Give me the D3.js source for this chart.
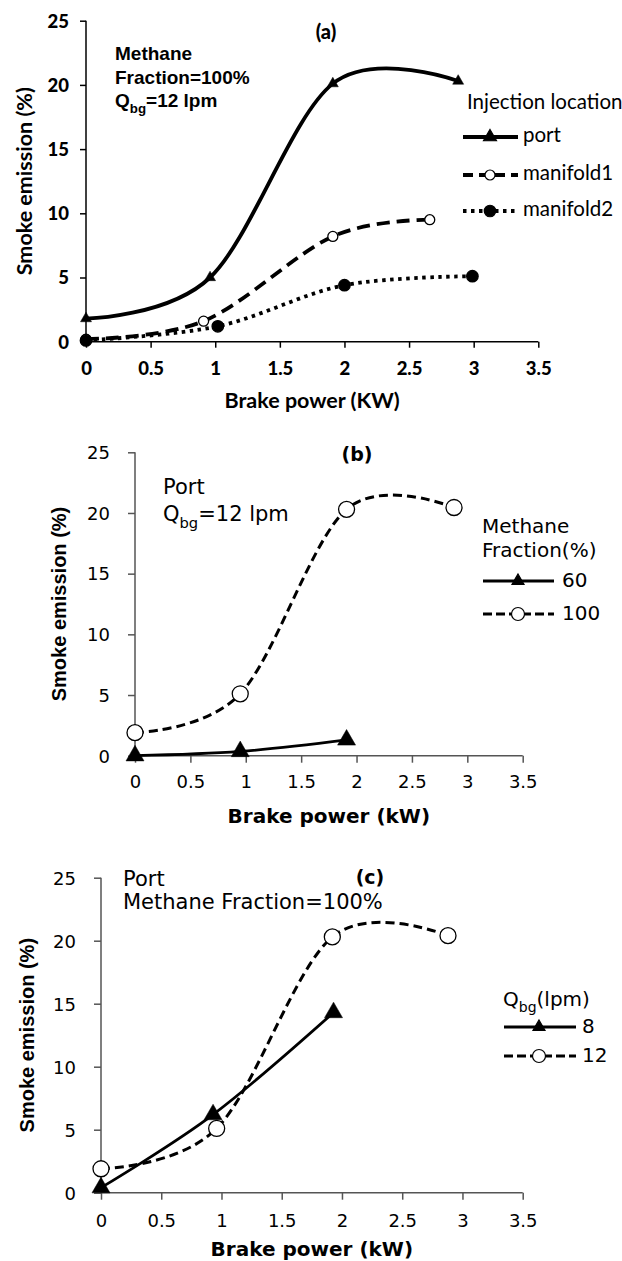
<!DOCTYPE html>
<html>
<head>
<meta charset="utf-8">
<script src="https://cdn.jsdelivr.net/npm/d3@7"></script>
<style>
  html, body { margin: 0; padding: 0; background: #fff; }
  svg { display: block; }
</style>
</head>
<body>
<svg id="chart" width="622" height="1261"></svg>
<script>
// ---------- DATA ----------
const xTicks = [0, 0.5, 1, 1.5, 2, 2.5, 3, 3.5];
const xTickLabels = ["0", "0.5", "1", "1.5", "2", "2.5", "3", "3.5"];
const yTicks = [0, 5, 10, 15, 20, 25];
const yTickLabels = ["0", "5", "10", "15", "20", "25"];

// Panel (a): Injection location
const portX = [0, 0.96, 1.91, 2.88];
const portY = [1.8, 5.0, 20.1, 20.3];
const manifold1X = [0, 0.91, 1.91, 2.66];
const manifold1Y = [0.2, 1.6, 8.2, 9.5];
const manifold2X = [0, 1.02, 2.0, 2.99];
const manifold2Y = [0.1, 1.2, 4.4, 5.1];

// Panel (b): Methane fraction
const mf100X = [0, 0.95, 1.91, 2.88];
const mf100Y = [1.9, 5.1, 20.3, 20.45];
const mf60X = [0, 0.95, 1.91];
const mf60Y = [0, 0.35, 1.3];

// Panel (c): Qbg
const q12X = [0, 0.96, 1.92, 2.88];
const q12Y = [1.9, 5.1, 20.3, 20.4];
const q8X = [0, 0.93, 1.93];
const q8Y = [0.4, 6.2, 14.3];

// ---------- DRAWING ----------
const svg = d3.select("#chart");
const zip = (xs, ys) => xs.map((x, i) => ({x, y: ys[i]}));
const triArea = w => Math.sqrt(3) / 4 * w * w;

function panel(cfg) {
  const g = svg.append("g");
  const x = d3.scaleLinear().domain([0, 3.5]).range([cfg.left, cfg.right]);
  const y = d3.scaleLinear().domain([0, 25]).range([cfg.bottom, cfg.top]);

  const ax = d3.axisBottom(x).tickValues(xTicks).tickFormat((d, i) => xTickLabels[i])
    .tickSizeInner(cfg.tick).tickSizeOuter(cfg.tick).tickPadding(0);
  const ay = d3.axisLeft(y).tickValues(yTicks).tickFormat((d, i) => yTickLabels[i])
    .tickSizeInner(cfg.tick).tickSizeOuter(0).tickPadding(cfg.yPad);
  const gx = g.append("g").attr("transform", `translate(0,${cfg.bottom})`).call(ax);
  const gy = g.append("g").attr("transform", `translate(${cfg.left},0)`).call(ay);
  [gx, gy].forEach(a => {
    a.selectAll("path, line").attr("stroke", cfg.axisColor).attr("stroke-width", cfg.axisWidth);
    a.selectAll("text").attr("fill", "#000")
      .style("font-family", cfg.tickFont).style("font-size", cfg.tickSize + "px")
      .style("font-weight", cfg.tickWeight);
  });
  gx.select(".domain").attr("d", `M${cfg.left},0H${cfg.right}`);
  gx.selectAll("text").attr("dy", "0").attr("y", cfg.xLabelY).attr("dominant-baseline", "middle");
  gy.select(".domain").attr("d", `M0,${cfg.bottom}V${cfg.top}`);
  gy.selectAll("text").attr("dy", "0.35em");

  g.append("text").attr("x", (cfg.left + cfg.right) / 2).attr("y", cfg.xTitleY)
    .attr("text-anchor", "middle").attr("dominant-baseline", "middle")
    .style("font-family", cfg.xTitleFont).style("font-size", cfg.titleSize + "px").style("font-weight", "bold")
    .text(cfg.xTitle);
  g.append("text").attr("transform", `translate(${cfg.yTitleX},${(cfg.top + cfg.bottom) / 2}) rotate(-90)`)
    .attr("text-anchor", "middle").attr("dominant-baseline", "middle")
    .style("font-family", cfg.yTitleFont).style("font-size", cfg.titleSize + "px").style("font-weight", "bold")
    .text(cfg.yTitle);

  const line = d3.line().x(d => x(d.x)).y(d => y(d.y)).curve(d3.curveCatmullRom.alpha(0));
  cfg.series.forEach(s => {
    const data = zip(s.xs, s.ys);
    g.append("path").datum(data).attr("d", line).attr("fill", "none")
      .attr("stroke", "#000").attr("stroke-width", s.width)
      .attr("stroke-dasharray", s.dash || null);
    g.selectAll(null).data(data).enter().append("path")
      .attr("transform", d => `translate(${x(d.x)},${y(d.y)})`)
      .attr("d", d3.symbol(s.marker === "tri" ? d3.symbolTriangle : d3.symbolCircle)
        .size(s.marker === "tri" ? triArea(s.msize) : Math.PI * (s.msize / 2) ** 2))
      .attr("fill", s.fill).attr("stroke", "#000").attr("stroke-width", s.marker === "tri" ? 0.5 : 1.3);
  });

  const L = cfg.legend;
  L.titles.forEach(t => {
    const tx = g.append("text").attr("x", L.titleX).attr("y", t.y).attr("dominant-baseline", "middle")
      .style("font-family", L.font).style("font-size", L.size + "px");
    t.parts.forEach(p => {
      const sp = tx.append("tspan").text(p.t);
      if (p.sub) sp.attr("baseline-shift", "sub").style("font-size", (L.size * 0.7) + "px");
    });
  });
  cfg.series.forEach((s, i) => {
    const ly = L.rows[i];
    g.append("line").attr("x1", L.x1).attr("x2", L.x2).attr("y1", ly).attr("y2", ly)
      .attr("stroke", "#000").attr("stroke-width", s.lwidth || s.width).attr("stroke-dasharray", s.legendDash || s.dash || null);
    g.append("path").attr("transform", `translate(${L.mx},${ly})`)
      .attr("d", d3.symbol(s.marker === "tri" ? d3.symbolTriangle : d3.symbolCircle)
        .size(s.marker === "tri" ? triArea(s.lmsize) : Math.PI * (s.lmsize / 2) ** 2))
      .attr("fill", s.fill).attr("stroke", "#000").attr("stroke-width", 1.2);
    g.append("text").attr("x", L.labelX).attr("y", ly).attr("dominant-baseline", "middle")
      .style("font-family", L.font).style("font-size", L.size + "px").text(s.name);
  });

  cfg.notes.forEach(n => {
    const tx = g.append("text").attr("x", n.x).attr("y", n.y).attr("dominant-baseline", "middle")
      .attr("text-anchor", n.anchor || "start")
      .style("font-family", n.font).style("font-size", n.size + "px").style("font-weight", n.weight || "normal");
    n.parts.forEach(p => {
      const sp = tx.append("tspan").text(p.t);
      if (p.sub) sp.attr("baseline-shift", "sub").style("font-size", (n.size * 0.7) + "px");
    });
  });
}

// Panel (a)
panel({
  left: 86, right: 538.3, top: 20.7, bottom: 341.7,
  tick: 6, yPad: 11, xLabelY: 28.5,
  axisColor: "#000", axisWidth: 1.5,
  tickFont: "Lato, 'Liberation Sans', sans-serif", tickSize: 18.5, tickWeight: "900",
  xTitle: "Brake power (KW)", xTitleY: 402, xTitleFont: "Lato, sans-serif",
  yTitle: "Smoke emission (%)", yTitleX: 26, yTitleFont: "Lato, sans-serif",
  titleSize: 21.5,
  series: [
    {name: "port", xs: portX, ys: portY, width: 3.8, lwidth: 4, marker: "tri", fill: "#000", msize: 11, lmsize: 13},
    {name: "manifold1", xs: manifold1X, ys: manifold1Y, width: 3.8, lwidth: 4, dash: "13 7", legendDash: "10 6", marker: "circle", fill: "#fff", msize: 10, lmsize: 10},
    {name: "manifold2", xs: manifold2X, ys: manifold2Y, width: 3.8, lwidth: 4, dash: "3.5 4.5", marker: "circle", fill: "#000", msize: 11.5, lmsize: 11.5}
  ],
  legend: {
    font: "Lato, sans-serif", size: 20.5, titleX: 467,
    titles: [{y: 104, parts: [{t: "Injection location"}]}],
    rows: [137, 175, 211], x1: 463, x2: 518, mx: 490, labelX: 523
  },
  notes: [
    {x: 326, y: 34, font: "Lato, sans-serif", size: 20, weight: "900", anchor: "middle", parts: [{t: "(a)"}]},
    {x: 115, y: 55, font: "'Liberation Sans', Arial, sans-serif", size: 19, weight: "bold", parts: [{t: "Methane"}]},
    {x: 115, y: 79, font: "'Liberation Sans', Arial, sans-serif", size: 19, weight: "bold", parts: [{t: "Fraction=100%"}]},
    {x: 115, y: 102, font: "'Liberation Sans', Arial, sans-serif", size: 19, weight: "bold", parts: [{t: "Q"}, {t: "bg", sub: true}, {t: "=12 lpm"}]}
  ]
});

// Panel (b)
panel({
  left: 135, right: 522.7, top: 452.3, bottom: 755.7,
  tick: 7, yPad: 18, xLabelY: 27.5,
  axisColor: "#555", axisWidth: 1.5,
  tickFont: "'DejaVu Sans', sans-serif", tickSize: 18, tickWeight: "normal",
  xTitle: "Brake power (kW)", xTitleY: 817, xTitleFont: "'DejaVu Sans', sans-serif",
  yTitle: "Smoke emission (%)", yTitleX: 61, yTitleFont: "'Liberation Sans', Arial, sans-serif",
  titleSize: 20,
  series: [
    {name: "60", xs: mf60X, ys: mf60Y, width: 2.8, marker: "tri", fill: "#000", msize: 18, lmsize: 12},
    {name: "100", xs: mf100X, ys: mf100Y, width: 3, dash: "9 5", legendDash: "9 4", marker: "circle", fill: "#fff", msize: 16, lmsize: 13}
  ],
  legend: {
    font: "'DejaVu Sans', sans-serif", size: 20, titleX: 482,
    titles: [{y: 527, parts: [{t: "Methane"}]}, {y: 551, parts: [{t: "Fraction(%)"}]}],
    rows: [581, 614], x1: 483, x2: 554, mx: 518, labelX: 562
  },
  notes: [
    {x: 357, y: 455, font: "'DejaVu Sans', sans-serif", size: 19, weight: "bold", anchor: "middle", parts: [{t: "(b)"}]},
    {x: 163, y: 488, font: "'DejaVu Sans', sans-serif", size: 21, parts: [{t: "Port"}]},
    {x: 163, y: 515, font: "'DejaVu Sans', sans-serif", size: 21, parts: [{t: "Q"}, {t: "bg", sub: true}, {t: "=12 lpm"}]}
  ]
});

// Panel (c)
panel({
  left: 101, right: 522.7, top: 877.7, bottom: 1192.7,
  tick: 7, yPad: 18, xLabelY: 29,
  axisColor: "#555", axisWidth: 1.5,
  tickFont: "'DejaVu Sans', sans-serif", tickSize: 18, tickWeight: "normal",
  xTitle: "Brake power (kW)", xTitleY: 1250, xTitleFont: "'DejaVu Sans', sans-serif",
  yTitle: "Smoke emission (%)", yTitleX: 29, yTitleFont: "'Liberation Sans', Arial, sans-serif",
  titleSize: 20,
  series: [
    {name: "8", xs: q8X, ys: q8Y, width: 2.8, marker: "tri", fill: "#000", msize: 18, lmsize: 12},
    {name: "12", xs: q12X, ys: q12Y, width: 3, dash: "9 5", legendDash: "9 4", marker: "circle", fill: "#fff", msize: 16, lmsize: 13}
  ],
  legend: {
    font: "'DejaVu Sans', sans-serif", size: 20, titleX: 503,
    titles: [{y: 1000, parts: [{t: "Q"}, {t: "bg", sub: true}, {t: "(lpm)"}]}],
    rows: [1027, 1056], x1: 504, x2: 576, mx: 539, labelX: 582
  },
  notes: [
    {x: 370, y: 878, font: "'DejaVu Sans', sans-serif", size: 19, weight: "bold", anchor: "middle", parts: [{t: "(c)"}]},
    {x: 123, y: 880, font: "'DejaVu Sans', sans-serif", size: 21, parts: [{t: "Port"}]},
    {x: 123, y: 903, font: "'DejaVu Sans', sans-serif", size: 21, parts: [{t: "Methane Fraction=100%"}]}
  ]
});
</script>
</body>
</html>
